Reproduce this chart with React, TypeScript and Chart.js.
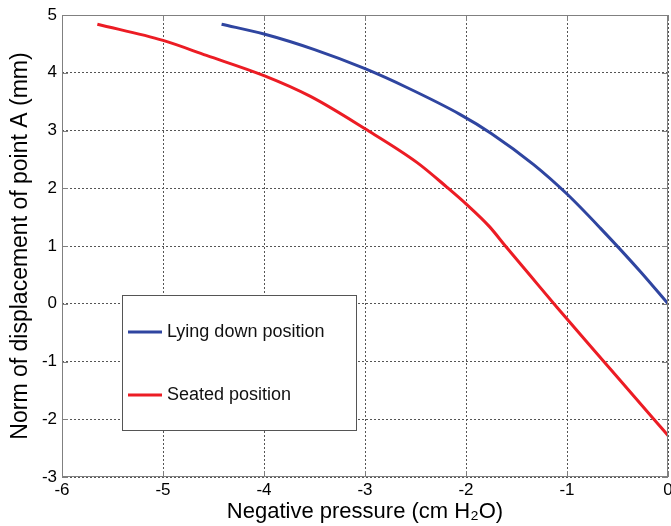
import React, { useEffect, useRef } from "react";
import { Chart, registerables } from "chart.js";

Chart.register(...registerables);

// ---- data ----
const lyingLabel = "Lying down position";
const lyingX = [-4.42, -4.0, -3.5, -3.0, -2.58, -2.06, -1.75, -1.33, -1.0, -0.67, -0.27, 0.0];
const lyingY = [4.84, 4.67, 4.4, 4.07, 3.74, 3.28, 2.95, 2.41, 1.9, 1.31, 0.55, 0.0];

const seatedLabel = "Seated position";
const seatedX = [-5.65, -5.0, -4.57, -4.0, -3.54, -3.0, -2.48, -2.19, -2.0, -1.77, -1.61, -1.36, -1.1, -0.64, -0.14, 0.0];
const seatedY = [4.84, 4.56, 4.3, 3.95, 3.59, 3.03, 2.44, 2.02, 1.73, 1.34, 1.0, 0.48, -0.06, -0.99, -2.0, -2.28];

const xMin = -6;
const xMax = 0;
const yMin = -3;
const yMax = 5;

const xTitle = "Negative pressure (cm H\u2082O)";
const yTitle = "Norm of displacement of point A (mm)";

const BLUE = "#2f45a0";
const RED = "#ec1c24";
const FONT = "'Liberation Sans', Arial, Helvetica, sans-serif";

const toPoints = (xs: number[], ys: number[]) => xs.map((x, i) => ({ x, y: ys[i] }));

const framePlugin = {
  id: "frame",
  afterDraw(chart: any) {
    const { ctx, chartArea, scales } = chart;
    const { left, right, top, bottom } = chartArea;
    ctx.save();
    ctx.strokeStyle = "#808080";
    ctx.lineWidth = 1;
    ctx.setLineDash([]);
    ctx.strokeRect(left + 0.5, top + 0.5, right - left - 1, bottom - top - 1);
    const tl = 6;
    ctx.beginPath();
    scales.x.ticks.forEach((t: any) => {
      const px = Math.round(scales.x.getPixelForValue(t.value)) + 0.5;
      ctx.moveTo(px, bottom);
      ctx.lineTo(px, bottom - tl);
      ctx.moveTo(px, top);
      ctx.lineTo(px, top + tl);
    });
    scales.y.ticks.forEach((t: any) => {
      const py = Math.round(scales.y.getPixelForValue(t.value)) + 0.5;
      ctx.moveTo(left, py);
      ctx.lineTo(left + tl, py);
      ctx.moveTo(right, py);
      ctx.lineTo(right - tl, py);
    });
    ctx.stroke();
    ctx.restore();
  },
};

const legendPlugin = {
  id: "insideLegend",
  afterDraw(chart: any) {
    const { ctx } = chart;
    const box = { x: 122, y: 295, w: 234, h: 135 };
    ctx.save();
    ctx.fillStyle = "#ffffff";
    ctx.fillRect(box.x, box.y, box.w, box.h);
    ctx.strokeStyle = "#555555";
    ctx.lineWidth = 1;
    ctx.strokeRect(box.x + 0.5, box.y + 0.5, box.w, box.h);
    const rows = [box.y + 37, box.y + 100];
    chart.data.datasets.forEach((ds: any, i: number) => {
      const y = rows[i];
      ctx.strokeStyle = ds.borderColor;
      ctx.lineWidth = 3;
      ctx.beginPath();
      ctx.moveTo(box.x + 6, y);
      ctx.lineTo(box.x + 40, y);
      ctx.stroke();
      ctx.fillStyle = "#111111";
      ctx.font = `18px ${FONT}`;
      ctx.textBaseline = "middle";
      ctx.textAlign = "left";
      ctx.fillText(ds.label, box.x + 45, y);
    });
    ctx.restore();
  },
};

export default function App() {
  const ref = useRef<HTMLCanvasElement | null>(null);

  useEffect(() => {
    if (!ref.current) return;
    const chart = new Chart(ref.current, {
      type: "line",
      data: {
        datasets: [
          {
            label: lyingLabel,
            data: toPoints(lyingX, lyingY),
            borderColor: BLUE,
            backgroundColor: BLUE,
            borderWidth: 3,
            pointRadius: 0,
            cubicInterpolationMode: "monotone",
            fill: false,
          },
          {
            label: seatedLabel,
            data: toPoints(seatedX, seatedY),
            borderColor: RED,
            backgroundColor: RED,
            borderWidth: 3,
            pointRadius: 0,
            cubicInterpolationMode: "monotone",
            fill: false,
          },
        ],
      },
      options: {
        animation: false,
        responsive: false,
        maintainAspectRatio: false,
        layout: { padding: { top: 15, right: 3, bottom: 0, left: 0 } },
        plugins: {
          legend: { display: false },
          tooltip: { enabled: false },
        },
        scales: {
          x: {
            type: "linear",
            min: xMin,
            max: xMax,
            ticks: {
              stepSize: 1,
              color: "#000",
              font: { family: FONT, size: 17 },
              padding: 3,
              maxRotation: 0,
            },
            grid: { color: "#555555", lineWidth: 1, drawTicks: false },
            border: { display: false, dash: [2, 2] },
            title: {
              display: true,
              text: xTitle,
              color: "#000",
              font: { family: FONT, size: 22 },
              padding: { top: 0, bottom: 1 },
            },
            afterFit: (s: any) => {
              s.height = 49;
              s.paddingLeft = 0;
              s.paddingRight = 0;
            },
          },
          y: {
            type: "linear",
            min: yMin,
            max: yMax,
            ticks: {
              stepSize: 1,
              color: "#000",
              font: { family: FONT, size: 17 },
              padding: 5,
            },
            grid: { color: "#555555", lineWidth: 1, drawTicks: false },
            border: { display: false, dash: [2, 2] },
            title: {
              display: true,
              text: yTitle,
              color: "#000",
              font: { family: FONT, size: 23 },
              padding: { top: 7, bottom: 0 },
            },
            afterFit: (s: any) => {
              s.width = 62;
              s.paddingTop = 0;
              s.paddingBottom = 0;
            },
          },
        },
      },
      plugins: [framePlugin, legendPlugin],
    });
    return () => chart.destroy();
  }, []);

  return (
    <div style={{ position: "absolute", left: 0, top: 0, width: 671, height: 526, background: "#fff" }}>
      <canvas ref={ref} width={671} height={526} />
    </div>
  );
}
